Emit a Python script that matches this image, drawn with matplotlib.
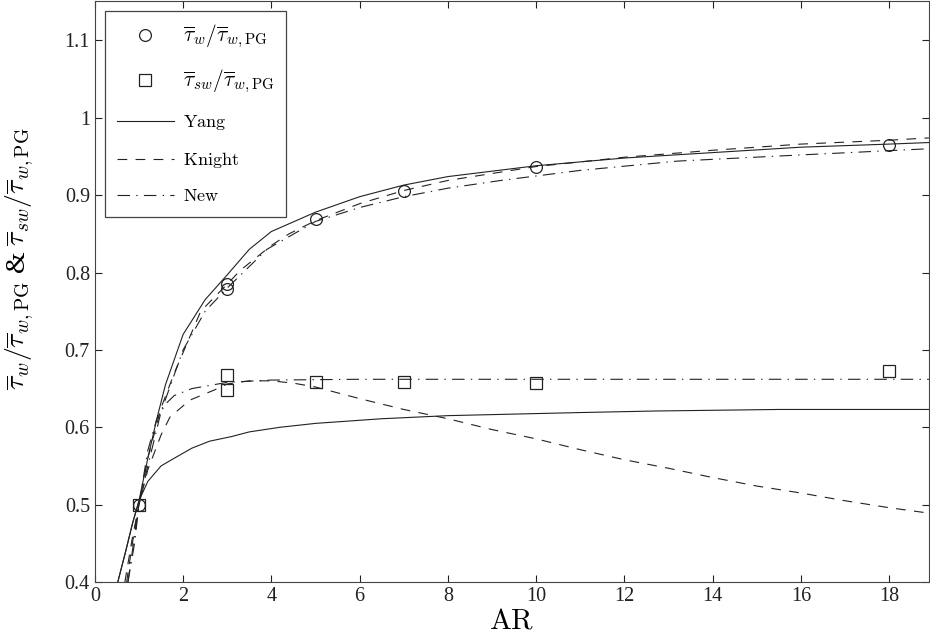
"""
Normalised wall shear stress vs aspect ratio: measured points + Yang / Knight / New models.
"""
import matplotlib
matplotlib.use("Agg")
import matplotlib.pyplot as plt

plt.rcParams["mathtext.fontset"] = "cm"
plt.rcParams["font.family"] = ["Liberation Serif", "DejaVu Serif"]
plt.rcParams["lines.scale_dashes"] = False

# measured points
ar_pts = [1, 3, 3, 5, 7, 10, 18]
tw_pts = [0.500, 0.785, 0.779, 0.869, 0.906, 0.936, 0.965]
ar_sq = [1, 3, 3, 5, 7, 10, 18]
tsw_pts = [0.500, 0.668, 0.648, 0.659, 0.659, 0.657, 0.673]

# Yang model
yang_w_ar = [0.52, 0.7, 0.85, 1.0, 1.2, 1.4, 1.6, 2.0, 2.5, 3.0, 3.5, 4, 5, 6, 7, 8, 10, 12, 14, 16, 18, 18.9]
yang_w = [0.40, 0.44, 0.475, 0.505, 0.56, 0.61, 0.655, 0.72, 0.765, 0.797, 0.83, 0.853,
          0.878, 0.898, 0.913, 0.924, 0.938, 0.948, 0.955, 0.962, 0.966, 0.968]
yang_sw_ar = [0.52, 0.7, 0.85, 1.0, 1.2, 1.5, 1.8, 2.2, 2.6, 3.1, 3.5, 4.2, 5.0, 6.5, 8, 9.5,
              11, 12.7, 15.5, 18.9]
yang_sw = [0.40, 0.44, 0.475, 0.505, 0.53, 0.55, 0.56, 0.573, 0.582, 0.588, 0.594, 0.600,
           0.605, 0.611, 0.615, 0.617, 0.619, 0.621, 0.623, 0.623]

# Knight model
knight_w_ar = [0.68, 0.84, 1.0, 1.2, 1.5, 1.8, 2.4, 3.0, 3.3, 4.0, 4.4, 5, 6, 7, 8, 10, 12, 14, 16, 18, 18.9]
knight_w = [0.40, 0.454, 0.5, 0.56, 0.625, 0.67, 0.75, 0.785, 0.803, 0.835, 0.85, 0.867,
            0.889, 0.906, 0.919, 0.937, 0.949, 0.958, 0.966, 0.971, 0.974]
knight_sw_ar = [0.72, 0.85, 1.0, 1.2, 1.5, 1.7, 2.15, 2.7, 3.0, 3.5, 4.0, 4.5, 5.0, 6, 7, 8, 9,
                10, 11, 12, 13, 14, 15, 16, 17, 18, 18.9]
knight_sw = [0.40, 0.45, 0.5, 0.545, 0.59, 0.613, 0.635, 0.648, 0.656, 0.66, 0.66, 0.657,
             0.652, 0.637, 0.623, 0.611, 0.597, 0.585, 0.571, 0.558, 0.547, 0.535, 0.524,
             0.515, 0.505, 0.496, 0.489]

# New model
new_w_ar = [0.75, 0.9, 1.0, 1.2, 1.5, 2.0, 2.5, 3.0, 3.9, 5.0, 6, 7, 8, 9.2, 11, 13.2, 16, 18.9]
new_w = [0.40, 0.45, 0.5, 0.55, 0.62, 0.70, 0.75, 0.78, 0.83, 0.866, 0.884, 0.898, 0.909,
         0.919, 0.932, 0.944, 0.952, 0.960]
new_sw_ar = [0.75, 0.9, 1.0, 1.2, 1.4, 1.6, 1.8, 2.2, 3.0, 4.0, 6, 18.9]
new_sw = [0.40, 0.46, 0.5, 0.57, 0.61, 0.63, 0.641, 0.65, 0.658, 0.661, 0.662, 0.662]

fig = plt.figure(figsize=(9.3, 6.44), dpi=100)
ax = fig.add_axes([0.102, 0.0963, 0.8968, 0.9022])

lc = "#222222"
lw = 0.8
dash = (7, 6)
dashdot = (9, 4.5, 1, 4.5)

ax.plot(ar_pts, tw_pts, "o", ls="none", mfc="none", mec=lc, ms=8.5, mew=0.9,
        label=r"$\overline{\tau}_w/\overline{\tau}_{w,\mathrm{PG}}$", zorder=3)
ax.plot(ar_sq, tsw_pts, "s", ls="none", mfc="none", mec=lc, ms=8.5, mew=0.9,
        label=r"$\overline{\tau}_{sw}/\overline{\tau}_{w,\mathrm{PG}}$", zorder=3)

ax.plot(yang_w_ar, yang_w, "-", color=lc, lw=lw, label=r"$\mathrm{Yang}$")
ax.plot(knight_w_ar, knight_w, color=lc, lw=lw, dashes=dash, label=r"$\mathrm{Knight}$")
ax.plot(new_w_ar, new_w, color=lc, lw=lw, dashes=dashdot, label=r"$\mathrm{New}$")
ax.plot(yang_sw_ar, yang_sw, "-", color=lc, lw=lw)
ax.plot(knight_sw_ar, knight_sw, color=lc, lw=lw, dashes=dash)
ax.plot(new_sw_ar, new_sw, color=lc, lw=lw, dashes=dashdot)

ax.set_xlim(0, 18.9)
ax.set_ylim(0.4, 1.151)
ax.set_xticks(range(0, 19, 2))
ax.set_yticks([0.4, 0.5, 0.6, 0.7, 0.8, 0.9, 1.0, 1.1])
ax.set_yticklabels(["0.4", "0.5", "0.6", "0.7", "0.8", "0.9", "1", "1.1"])
ax.tick_params(direction="in", top=True, right=True, length=5, width=0.8,
               labelsize=14.5, colors="#222222")
for s in ax.spines.values():
    s.set_linewidth(0.8)
    s.set_color("#444444")

ax.set_xlabel(r"$\mathrm{AR}$", fontsize=21, labelpad=2)
ax.set_ylabel(r"$\overline{\tau}_w/\overline{\tau}_{w,\mathrm{PG}}$ & $\overline{\tau}_{sw}/\overline{\tau}_{w,\mathrm{PG}}$",
              fontsize=20)
ax.yaxis.set_label_coords(-0.07, 0.557)

leg = ax.legend(loc="upper left", bbox_to_anchor=(0.012, 0.983), fontsize=13,
                handlelength=3.2, labelspacing=1.0, borderpad=0.65, handletextpad=0.45,
                borderaxespad=0, fancybox=False, framealpha=1, edgecolor="#444444")
leg.get_frame().set_linewidth(0.9)
for t in leg.get_texts()[:2]:
    t.set_fontsize(15.5)

fig.savefig("out.png", dpi=100)
